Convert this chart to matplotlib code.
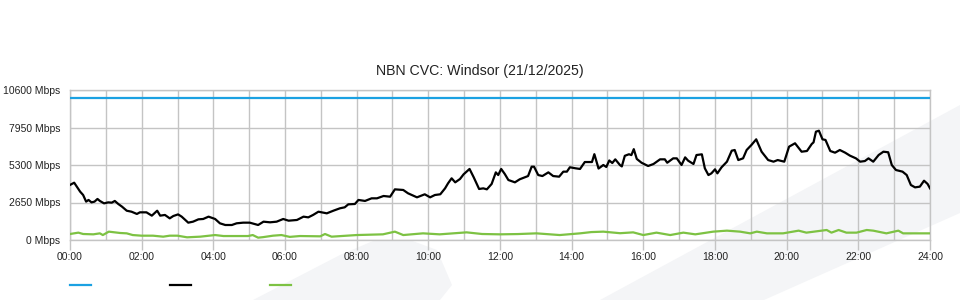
import matplotlib
matplotlib.use("Agg")
import matplotlib.pyplot as plt
from matplotlib.lines import Line2D
from matplotlib.patches import Polygon

plt.rcParams["font.family"] = ["Liberation Sans", "DejaVu Sans"]

TITLE = "NBN CVC: Windsor (21/12/2025)"

# capacity (blue)
cap_times = ["00:00", "24:00"]
cap_mbps = [10000, 10000]

# traffic (black)
traffic_times = [
    "00:00", "00:07", "00:17", "00:22", "00:27", "00:31", "00:36", "00:41", "00:46", "00:50",
    "00:57", "01:04", "01:10", "01:15", "01:21", "01:27", "01:35", "01:43", "01:52", "01:57",
    "02:08", "02:17", "02:26", "02:31", "02:39", "02:47", "02:53", "03:01", "03:07", "03:18",
    "03:26", "03:35", "03:43", "03:52", "04:03", "04:11", "04:20", "04:31", "04:39", "04:50",
    "05:01", "05:15", "05:24", "05:35", "05:46", "05:57", "06:06", "06:20", "06:31", "06:39",
    "06:47", "06:56", "07:10", "07:21", "07:32", "07:40", "07:46", "07:57", "08:03", "08:14",
    "08:25", "08:34", "08:45", "08:56", "09:04", "09:18", "09:26", "09:41", "09:54", "10:03",
    "10:11", "10:20", "10:28", "10:33", "10:39", "10:45", "10:53", "10:59", "11:09", "11:16",
    "11:25", "11:32", "11:38", "11:46", "11:53", "11:57", "12:02", "12:08", "12:14", "12:25",
    "12:33", "12:47", "12:53", "12:57", "13:04", "13:11", "13:21", "13:29", "13:39", "13:46",
    "13:52", "13:57", "14:06", "14:14", "14:22", "14:34", "14:38", "14:45", "14:53", "14:58",
    "15:03", "15:08", "15:13", "15:21", "15:24", "15:29", "15:36", "15:40", "15:44", "15:49",
    "15:57", "16:08", "16:17", "16:28", "16:36", "16:40", "16:50", "16:56", "17:04", "17:10",
    "17:15", "17:24", "17:29", "17:38", "17:43", "17:49", "17:54", "18:00", "18:04", "18:11",
    "18:20", "18:28", "18:33", "18:39", "18:47", "18:53", "19:01", "19:09", "19:18", "19:29",
    "19:38", "19:45", "19:56", "20:04", "20:14", "20:25", "20:34", "20:42", "20:45", "20:49",
    "20:54", "21:00", "21:05", "21:13", "21:21", "21:29", "21:38", "21:46", "21:56", "22:03",
    "22:11", "22:17", "22:25", "22:34", "22:42", "22:50", "22:56", "23:03", "23:14", "23:21",
    "23:28", "23:35", "23:43", "23:50", "23:56", "24:00",
]
traffic_mbps = [
    3890, 4050, 3415, 3180, 2710, 2830, 2660, 2710, 2900, 2760,
    2590, 2660, 2640, 2760, 2540, 2360, 2070, 2000, 1840, 1955,
    1955, 1720, 2070, 1720, 1770, 1530, 1695, 1810, 1650, 1225,
    1295, 1460, 1485, 1650, 1485, 1180, 1060, 1060, 1180, 1225,
    1225, 1060, 1295, 1250, 1295, 1485, 1365, 1415, 1650, 1600,
    1770, 2000, 1885, 2070, 2240, 2310, 2520, 2545, 2830, 2760,
    2945, 2945, 3110, 3060, 3580, 3535, 3300, 3015, 3230, 3015,
    3180, 3230, 3650, 4005, 4360, 4075, 4310, 4640, 5020, 4430,
    3605, 3650, 3580, 3960, 4780, 4590, 5020, 4665, 4240, 4075,
    4290, 4520, 5180, 5180, 4590, 4520, 4780, 4520, 4475, 4830,
    4830, 5140, 5070, 5020, 5510, 5510, 6065, 5050, 5300, 5160,
    5620, 5440, 5700, 5290, 5200, 5950, 6060, 6000, 6420, 5730,
    5460, 5230, 5370, 5700, 5700, 5460, 5770, 5770, 5300, 5840,
    5605, 5370, 6005, 6055, 5065, 4590, 4710, 4995, 4710, 5140,
    5535, 6310, 6360, 5650, 5770, 6360, 6715, 7115, 6240, 5650,
    5535, 5650, 5535, 6595, 6835, 6240, 6290, 6785, 6900, 7655,
    7725, 7115, 7070, 6290, 6170, 6360, 6170, 5960, 5770, 5535,
    5580, 5770, 5535, 6005, 6240, 6200, 5300, 4945, 4830, 4590,
    3885, 3720, 3770, 4190, 3960, 3650,
]

# upload / other (green)
green_times = [
    "00:00", "00:14", "00:22", "00:39", "00:50", "00:55", "01:05", "01:24", "01:35", "01:45",
    "02:00", "02:19", "02:36", "02:47", "03:00", "03:16", "03:38", "04:03", "04:17", "04:33",
    "04:58", "05:06", "05:15", "05:23", "05:40", "05:54", "06:08", "06:25", "06:59", "07:07",
    "07:18", "08:00", "08:44", "09:04", "09:18", "09:51", "10:19", "11:04", "11:30", "12:00",
    "12:30", "13:01", "13:40", "14:14", "14:33", "14:53", "15:21", "15:43", "16:00", "16:22",
    "16:45", "17:07", "17:27", "17:57", "18:20", "18:42", "18:59", "19:10", "19:27", "19:54",
    "20:20", "20:33", "21:07", "21:15", "21:27", "21:40", "21:57", "22:14", "22:25", "22:47",
    "23:07", "23:15", "24:00",
]
green_mbps = [
    424, 520, 424, 400, 470, 350, 590, 495, 470, 350,
    305, 305, 235, 305, 305, 190, 235, 350, 280, 280,
    280, 350, 165, 200, 305, 350, 220, 280, 260, 424,
    235, 350, 400, 590, 350, 470, 400, 540, 424, 400,
    420, 470, 350, 470, 560, 590, 480, 540, 350, 520,
    350, 520, 400, 590, 660, 590, 470, 590, 470, 470,
    660, 520, 707, 520, 707, 520, 520, 707, 660, 470,
    660, 470, 470,
]

y_ticks = [0, 2650, 5300, 7950, 10600]
x_ticks = list(range(0, 25, 2))


def to_hours(times):
    out = []
    for t in times:
        h, m = t.split(":")
        out.append(int(h) + int(m) / 60)
    return out


W, H = 960, 300
fig = plt.figure(figsize=(W / 100, H / 100), dpi=100)


def px(points):
    return [(x / W, 1 - y / H) for x, y in points]


# faint watermark shapes behind the chart
wm = "#f4f5f7"
fig.patches.append(Polygon(px([(253, 300), (340, 255), (373, 241), (410, 240), (437, 250),
                               (452, 285), (440, 300)]),
                           closed=True, transform=fig.transFigure, fc=wm, ec="none", zorder=-5))
fig.patches.append(Polygon(px([(600, 300), (960, 105), (960, 213), (764, 300)]),
                           closed=True, transform=fig.transFigure, fc=wm, ec="none", zorder=-5))

ax = fig.add_axes([70 / W, 60 / H, 860 / W, 150 / H])
ax.set_facecolor("none")

ax.plot(to_hours(cap_times), cap_mbps, color="#1ba1e2", lw=1.6, zorder=3)
ax.plot(to_hours(traffic_times), traffic_mbps, color="black", lw=1.6, zorder=3)
ax.plot(to_hours(green_times), green_mbps, color="#7dc243", lw=1.6, zorder=3)

ax.set_xlim(0, 24)
ax.set_ylim(0, 10600)
ax.set_xticks(x_ticks)
ax.set_xticklabels([f"{h:02d}:00" for h in x_ticks])
ax.set_xticks(range(0, 25), minor=True)
ax.set_yticks(y_ticks)
ax.set_yticklabels([f"{v} Mbps" for v in y_ticks])

grid_c = "#c4c4c4"
ax.grid(which="both", axis="x", color=grid_c, lw=1)
ax.grid(which="major", axis="y", color=grid_c, lw=1)
ax.set_axisbelow(True)
for s in ax.spines.values():
    s.set_color(grid_c)
    s.set_linewidth(1)

ax.tick_params(axis="x", which="major", length=7.2, width=1, color=grid_c, pad=1.5,
               labelsize=7.5, labelcolor="#222222")
ax.tick_params(axis="x", which="minor", length=0)
ax.tick_params(axis="y", length=0, pad=7, labelsize=7.5, labelcolor="#222222")

fig.text(0.5, 1 - 71 / H, TITLE, ha="center", va="center", fontsize=10.2, color="#222222")

# legend swatches (no labels)
for x0, c in [(70, "#1ba1e2"), (170, "black"), (270, "#7dc243")]:
    fig.add_artist(Line2D([x0 / W, (x0 + 21) / W], [1 - 285 / H] * 2,
                          transform=fig.transFigure, color=c, lw=1.6))

fig.savefig("out.png", dpi=100)
